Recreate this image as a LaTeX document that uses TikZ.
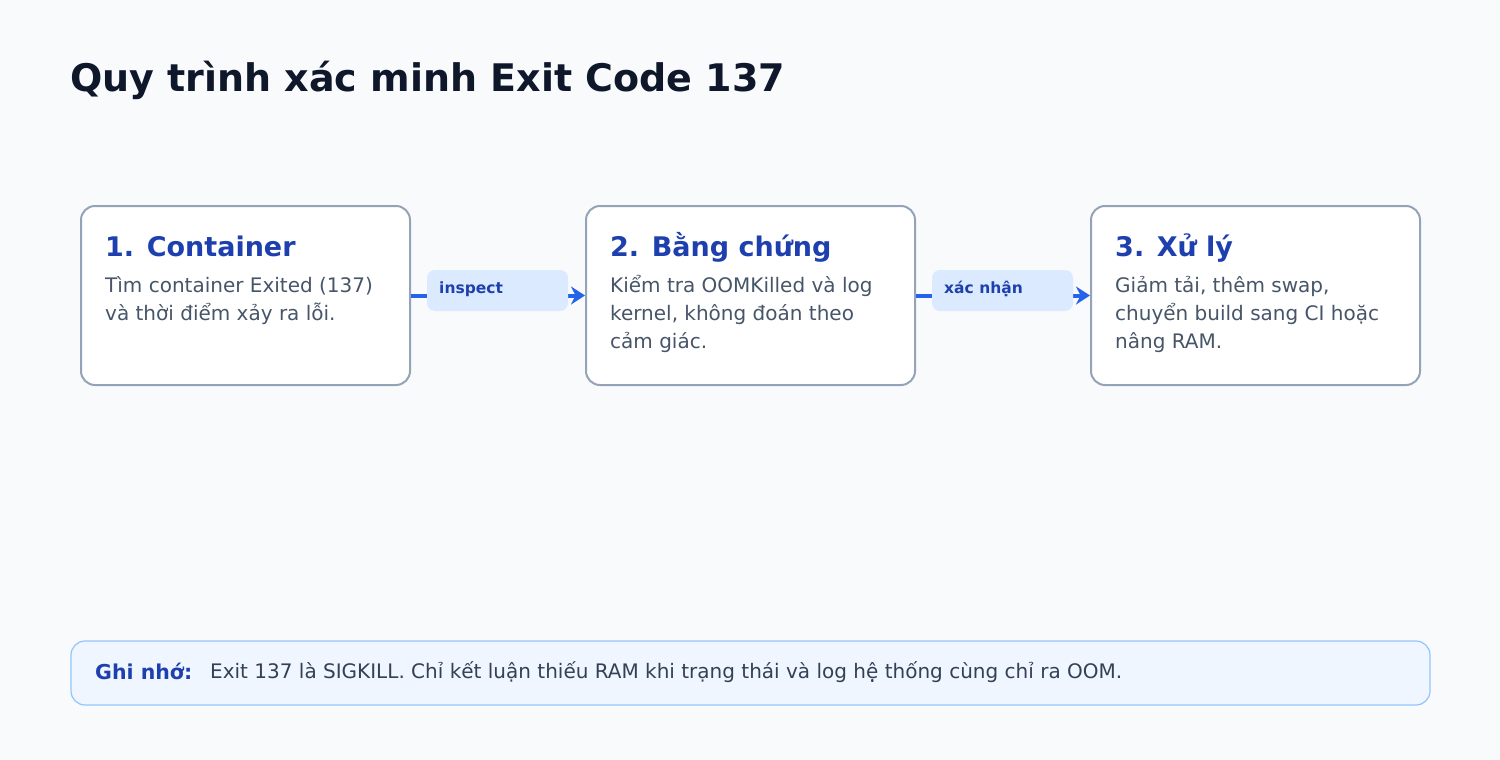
\documentclass[tikz,border=0pt]{standalone}
\usepackage{fontspec}
\setmainfont{DejaVu Sans}
\usetikzlibrary{arrows.meta, positioning}
\definecolor{bg}{HTML}{F8FAFC}
\definecolor{ink}{HTML}{0F172A}
\definecolor{frame}{HTML}{94A3B8}
\definecolor{head}{HTML}{1E40AF}
\definecolor{body}{HTML}{475569}
\definecolor{flow}{HTML}{2563EB}
\definecolor{tag}{HTML}{DBEAFE}
\definecolor{notefill}{HTML}{EFF6FF}
\definecolor{noteline}{HTML}{93C5FD}
\definecolor{notetext}{HTML}{334155}

\tikzset{
  stagebox/.style={draw=frame, line width=2pt, fill=white, rounded corners=14pt,
    minimum width=329pt, minimum height=179pt, inner sep=0pt},
  stagetitle/.style={anchor=base west, inner sep=0pt, text=head,
    font=\fontsize{27}{32}\selectfont\bfseries},
  stagetext/.style={anchor=base west, inner sep=0pt, text=body, align=left,
    font=\fontsize{20}{28}\selectfont},
  link/.style={draw=flow, line width=4pt, -{Stealth[length=14pt, width=18pt]}},
  linktag/.style={fill=tag, rounded corners=8pt, minimum width=141pt,
    minimum height=41pt, inner sep=0pt},
  linktext/.style={anchor=base west, inner sep=0pt, text=head,
    font=\fontsize{15.5}{18}\selectfont\bfseries}
}

\begin{document}
\begin{tikzpicture}[x=1pt, y=-1pt]

  \fill[bg] (0, 0) rectangle (1500, 760);
  \useasboundingbox (0, 0) rectangle (1500, 760);

  \node[anchor=base west, inner sep=0pt, text=ink,
    font=\fontsize{38}{44}\selectfont\bfseries] (title) at (70, 92)
    {Quy trình xác minh Exit Code 137};

  % the three steps
  \node[stagebox] (container) at (245.5, 295.5) {};
  \node[stagebox] (proof) at (750.5, 295.5) {};
  \node[stagebox] (fix) at (1255.5, 295.5) {};

  \node[stagetitle] (containerT) at (105, 256) {1. Container};
  \node[stagetext] (containerB) at (105, 320)
    {Tìm container Exited (137)\\và thời điểm xảy ra lỗi.};

  \node[stagetitle] (proofT) at (610, 256) {2. Bằng chứng};
  \node[stagetext] (proofB) at (610, 348)
    {Kiểm tra OOMKilled và log\\kernel, không đoán theo\\cảm giác.};

  \node[stagetitle] (fixT) at (1115, 256) {3. Xử lý};
  \node[stagetext] (fixB) at (1115, 348)
    {Giảm tải, thêm swap,\\chuyển build sang CI hoặc\\nâng RAM.};

  % connectors
  \draw[link] (container.east) -- (proof.west);
  \draw[link] (proof.east) -- (fix.west);

  \node[linktag] (inspect) at (497.5, 290.5) {};
  \node[linktext] at (439, 293) {inspect};
  \node[linktag] (confirm) at (1002.5, 290.5) {};
  \node[linktext] at (944, 293) {xác nhận};

  % note
  \node[draw=noteline, line width=1.2pt, fill=notefill, rounded corners=14pt,
    minimum width=1359pt, minimum height=64pt, inner sep=0pt] (note) at (750.5, 673) {};
  \node[anchor=base west, inner sep=0pt, text=head,
    font=\fontsize{20.5}{24}\selectfont\bfseries] (noteT) at (95, 679) {Ghi nhớ:};
  \node[anchor=base west, inner sep=0pt, text=notetext,
    font=\fontsize{20}{24}\selectfont] (noteB) at (210, 678)
    {Exit 137 là SIGKILL. Chỉ kết luận thiếu RAM khi trạng thái và log hệ thống cùng chỉ ra OOM.};

\end{tikzpicture}
\end{document}
